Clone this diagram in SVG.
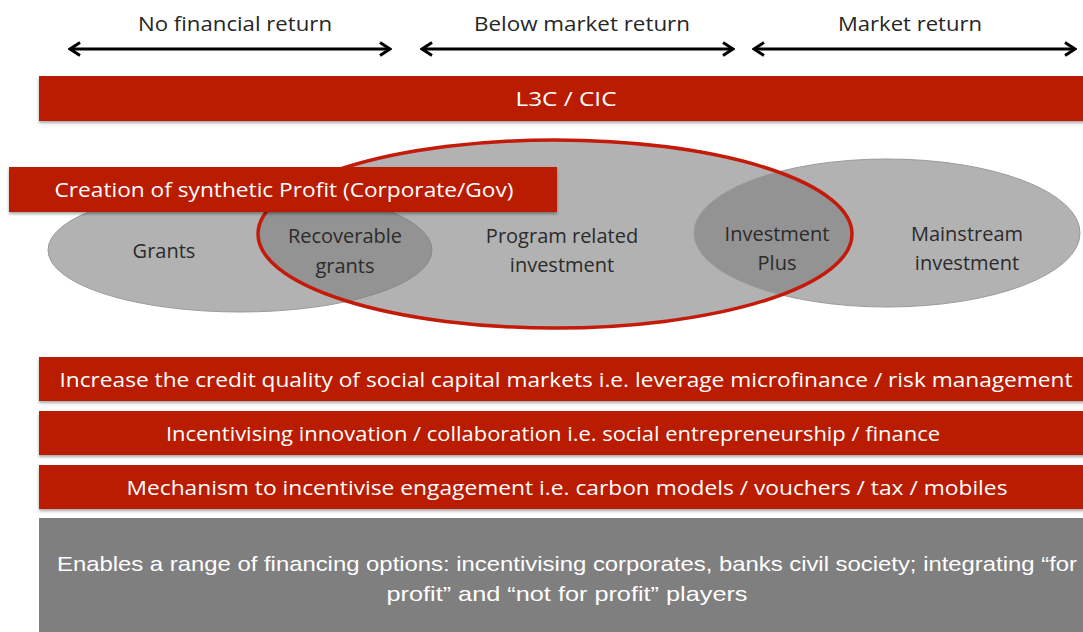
<svg xmlns="http://www.w3.org/2000/svg" width="1083" height="632" viewBox="0 0 1083 632">
  <defs>
    <style>
      .lbl { font-family: "Open Sans", "Liberation Sans", sans-serif; font-size: 20px; fill: #262626; text-anchor: middle; }
      .bar { fill: #b91a00; }
      .bartxt { font-family: "Open Sans", "Liberation Sans", sans-serif; font-size: 20px; fill: #ffffff; text-anchor: middle; dominant-baseline: central; }
      .oval { fill: #7f7f7f; fill-opacity: 0.6; stroke: #9a9a9a; stroke-width: 1; }
      .ovtxt { font-family: "Open Sans", "Liberation Sans", sans-serif; font-size: 20px; fill: #2b2b2b; text-anchor: middle; dominant-baseline: central; }
      .arrow { stroke: #000; stroke-width: 3; fill: none; marker-start: url(#head); marker-end: url(#head); }
      .graytxt { font-family: "Liberation Sans", "Open Sans", sans-serif; font-size: 21px; fill: #ffffff; text-anchor: middle; dominant-baseline: central; }
    </style>
    <marker id="head" viewBox="0 0 14 16" refX="12" refY="8" markerWidth="14" markerHeight="16" markerUnits="userSpaceOnUse" orient="auto-start-reverse">
      <path d="M2,1.5 L12,8 L2,14.5" fill="none" stroke="#000" stroke-width="3" stroke-linejoin="miter"/>
    </marker>
    <filter id="shadow" x="-5%" y="-20%" width="110%" height="150%">
      <feDropShadow dx="0" dy="2" stdDeviation="1.5" flood-color="#000" flood-opacity="0.35"/>
    </filter>
  </defs>

  <rect width="1083" height="632" fill="#ffffff"/>

  <!-- return bands across the top -->
  <g id="connectors">
    <line class="arrow" x1="70" y1="49" x2="390" y2="49"/>
    <line class="arrow" x1="422" y1="49" x2="733" y2="49"/>
    <line class="arrow" x1="754" y1="49" x2="1075" y2="49"/>
  </g>
  <g id="return-labels">
    <text class="lbl" x="235" y="31" textLength="194" lengthAdjust="spacingAndGlyphs">No financial return</text>
    <text class="lbl" x="582" y="31" textLength="216" lengthAdjust="spacingAndGlyphs">Below market return</text>
    <text class="lbl" x="910" y="31" textLength="144" lengthAdjust="spacingAndGlyphs">Market return</text>
  </g>

  <g id="l3c-cic">
    <rect class="bar" x="39" y="76" width="1050" height="45" filter="url(#shadow)"/>
    <text class="bartxt" x="566" y="98" font-size="25" textLength="101" lengthAdjust="spacingAndGlyphs">L3C / CIC</text>
  </g>

  <!-- overlapping investment ovals -->
  <g id="grants">
    <ellipse class="oval" cx="240" cy="250" rx="192" ry="62"/>
    <text class="ovtxt" x="164" y="250">Grants</text>
  </g>
  <g id="program-related-investment">
    <ellipse class="oval" cx="555" cy="234" rx="297" ry="94"/>
    <text class="ovtxt" x="562" y="235">Program related</text>
    <text class="ovtxt" x="562" y="264">investment</text>
  </g>
  <g id="mainstream-investment">
    <ellipse class="oval" cx="887" cy="233" rx="193" ry="74"/>
    <text class="ovtxt" x="967" y="233">Mainstream</text>
    <text class="ovtxt" x="967" y="262">investment</text>
  </g>
  <g id="recoverable-grants">
    <text class="ovtxt" x="345" y="235">Recoverable</text>
    <text class="ovtxt" x="345" y="265">grants</text>
  </g>
  <g id="investment-plus">
    <text class="ovtxt" x="777" y="233">Investment</text>
    <text class="ovtxt" x="777" y="262">Plus</text>
  </g>
  <ellipse id="program-outline" cx="555" cy="234" rx="297" ry="94" fill="none" stroke="#c41a0a" stroke-width="3.5"/>

  <g id="synthetic-profit">
    <rect class="bar" x="9" y="167" width="548" height="45" filter="url(#shadow)"/>
    <text class="bartxt" x="284" y="189" textLength="459" lengthAdjust="spacingAndGlyphs">Creation of synthetic Profit (Corporate/Gov)</text>
  </g>

  <!-- mechanism bars -->
  <g id="credit-quality">
    <rect class="bar" x="39" y="357" width="1050" height="44" filter="url(#shadow)"/>
    <text class="bartxt" x="566" y="379" textLength="1013" lengthAdjust="spacingAndGlyphs">Increase the credit quality of social capital markets i.e. leverage microfinance / risk management</text>
  </g>
  <g id="innovation">
    <rect class="bar" x="39" y="411" width="1050" height="44" filter="url(#shadow)"/>
    <text class="bartxt" x="553" y="433" textLength="774" lengthAdjust="spacingAndGlyphs">Incentivising innovation / collaboration i.e. social entrepreneurship  / finance</text>
  </g>
  <g id="engagement">
    <rect class="bar" x="39" y="465" width="1050" height="44" filter="url(#shadow)"/>
    <text class="bartxt" x="567" y="487" textLength="881" lengthAdjust="spacingAndGlyphs">Mechanism to incentivise engagement i.e. carbon models / vouchers / tax / mobiles</text>
  </g>

  <g id="financing-options">
    <rect x="39" y="518" width="1050" height="120" fill="#7f7f7f"/>
    <text class="graytxt" x="567" y="563" textLength="1020" lengthAdjust="spacingAndGlyphs">Enables a range of financing options: incentivising corporates, banks civil society; integrating “for</text>
    <text class="graytxt" x="567" y="593" textLength="361" lengthAdjust="spacingAndGlyphs">profit” and “not for profit” players</text>
  </g>
</svg>
